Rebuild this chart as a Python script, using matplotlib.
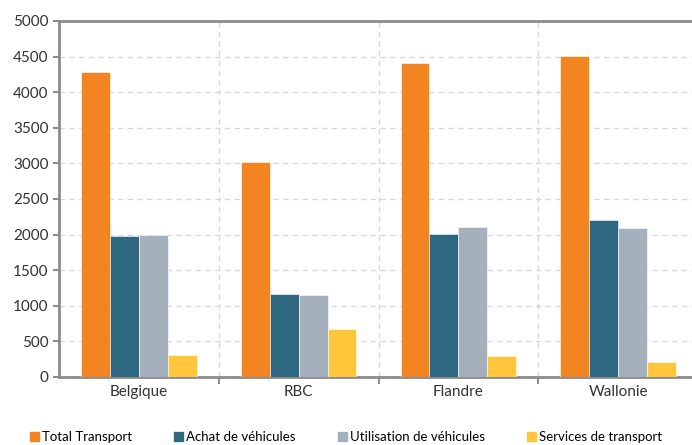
import numpy as np
import matplotlib.pyplot as plt
from matplotlib.patches import Patch

regions = ['Belgique', 'RBC', 'Flandre', 'Wallonie']
series = ['Total Transport', 'Achat de véhicules', 'Utilisation de véhicules', 'Services de transport']
total = [4285, 3015, 4415, 4505]
achat = [1975, 1172, 2003, 2203]
utilisation = [1993, 1158, 2100, 2088]
services = [312, 668, 294, 210]
colors = ['#F28422', '#2E6880', '#A5B0BD', '#FFC63C']

plt.rcParams['font.family'] = ['Lato', 'DejaVu Sans']
fig = plt.figure(figsize=(6.92, 4.45), dpi=100)
ax = fig.add_axes([59/692, 68/445, 639/692, 356/445])

x = np.arange(len(regions))
w = 0.181
for k, vals in enumerate([total, achat, utilisation, services]):
    ax.bar(x + (k - 1.5) * w, vals, w, color=colors[k], edgecolor='white', linewidth=0.4, zorder=3)

ax.set_xlim(-0.5, 3.5)
ax.set_ylim(0, 5000)
ax.set_yticks(np.arange(0, 5001, 500))
ax.set_xticks(x)
ax.set_xticklabels(regions)
ax.set_xticks([0.5, 1.5, 2.5], minor=True)
ax.tick_params(axis='x', which='major', length=0, labelsize=11, colors='#333333', pad=6)
ax.tick_params(axis='x', which='minor', length=5, width=1.5, color='#8c8c8c')
ax.tick_params(axis='y', length=4, width=1.5, color='#8c8c8c', labelsize=11, labelcolor='#333333')
ax.grid(axis='y', which='major', ls=(0, (4, 3)), color='#d9d9d9', lw=1, zorder=0)
ax.grid(axis='x', which='minor', ls=(0, (4, 3)), color='#d9d9d9', lw=1, zorder=0)
for s in ['left', 'bottom', 'top']:
    ax.spines[s].set_color('#8c8c8c')
    ax.spines[s].set_linewidth(2)
ax.spines['right'].set_visible(False)

handles = [Patch(color=c) for c in colors]
fig.legend(handles, series, loc='center', bbox_to_anchor=(0.5, 1 - 437/445), ncol=4,
           frameon=False, fontsize=9.5, handlelength=0.7, handleheight=0.7,
           handletextpad=0.2, columnspacing=3.2)

fig.savefig('out.png', dpi=100)
